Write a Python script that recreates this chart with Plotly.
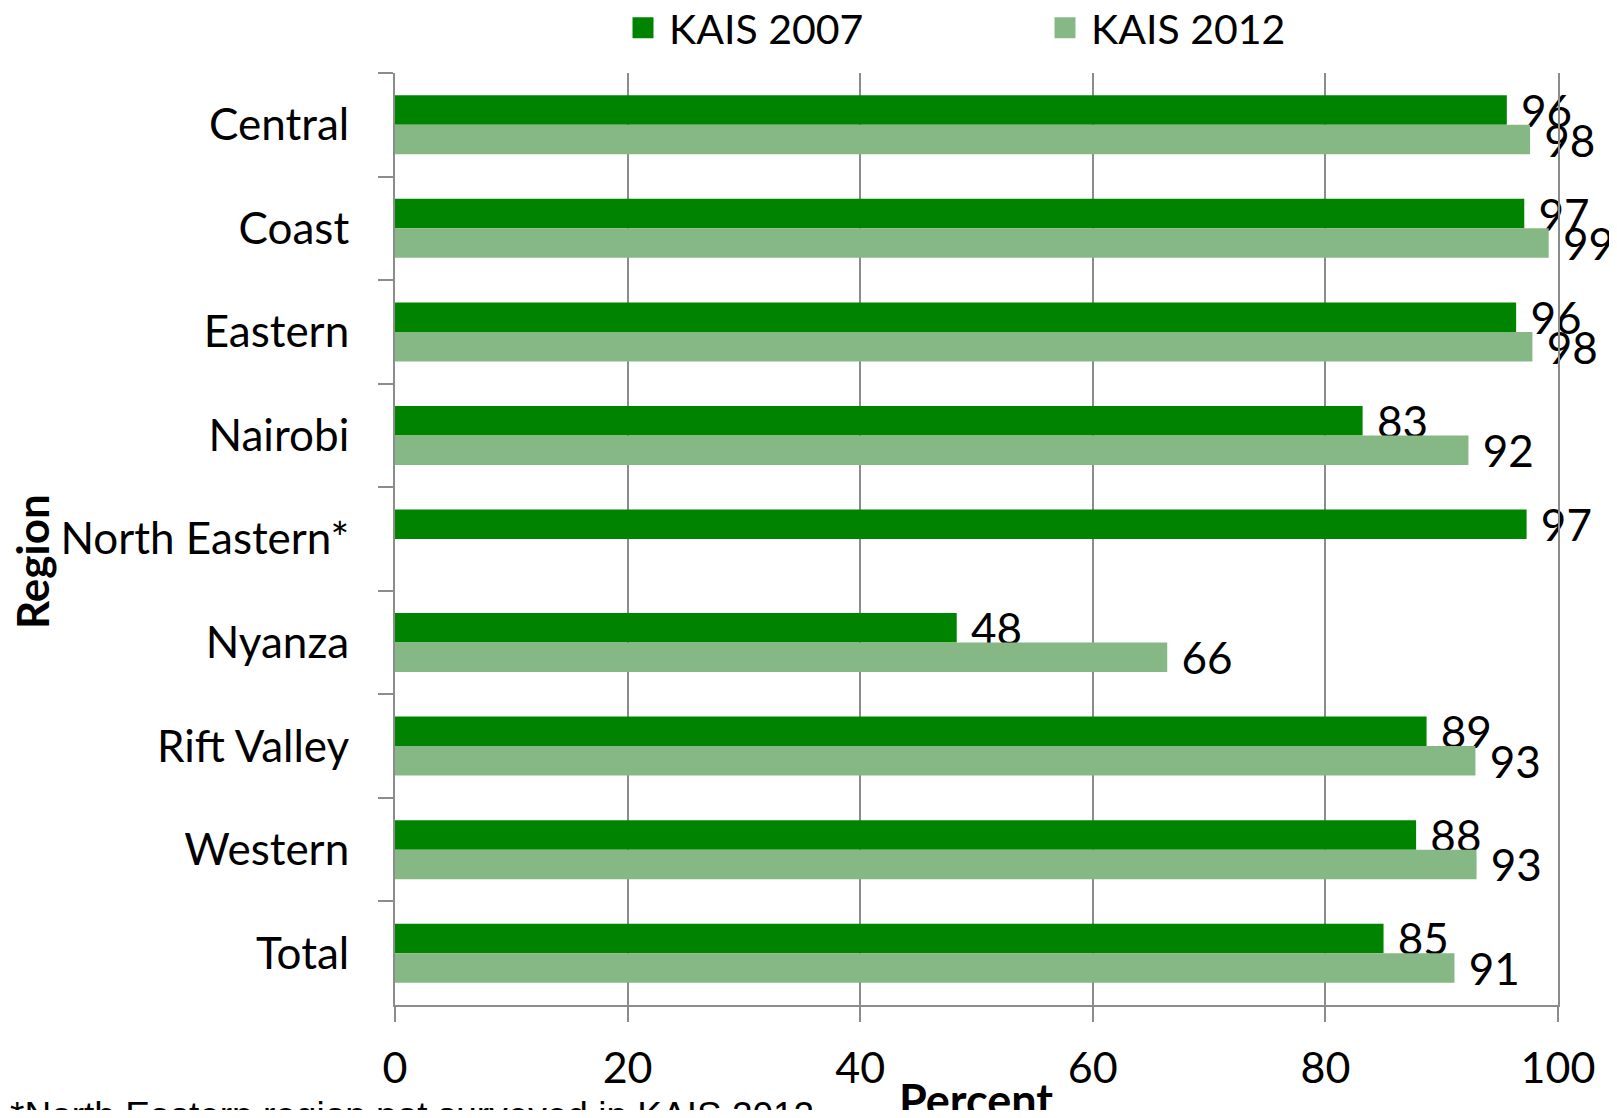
import plotly.graph_objects as go

regions = ["Central", "Coast", "Eastern", "Nairobi", "North Eastern*",
           "Nyanza", "Rift Valley", "Western", "Total"]
kais_2007 = [95.6, 97.1, 96.4, 83.2, 97.3, 48.3, 88.7, 87.8, 85.0]
kais_2012 = [97.6, 99.2, 97.8, 92.3, None, 66.4, 92.9, 93.0, 91.1]
labels_2007 = ["96", "97", "96", "83", "97", "48", "89", "88", "85"]
labels_2012 = ["98", "99", "98", "92", "", "66", "93", "93", "91"]
x_ticks = [0, 20, 40, 60, 80, 100]

# the page adds an 8px body margin; figure is sized so the page fits the window
W, H = 1609, 1102
ML, MR, MT, MB = 387, 59, 65, 105
ph = H - MT - MB
pw = W - ML - MR

FONT = "Lato"
dark = "#008400"
light = "#86B886"
axis_gray = "#8c8c8c"

fig = go.Figure()
for vals, labs, name, col in [(kais_2007, labels_2007, "KAIS 2007", dark),
                              (kais_2012, labels_2012, "KAIS 2012", light)]:
    fig.add_trace(go.Bar(
        y=regions, x=vals, orientation="h", name=name, showlegend=False,
        marker=dict(color=col, line=dict(width=0)),
        text=labs, texttemplate="\u00a0%{text}",
        textposition="outside", constraintext="none",
        cliponaxis=False, textfont=dict(family=FONT, size=44, color="black"),
    ))
# legend entries (square swatches)
for name, col in [("KAIS 2007", dark), ("KAIS 2012", light)]:
    fig.add_trace(go.Scatter(
        x=[None], y=[None], mode="markers", name=name,
        marker=dict(symbol="square", size=16, color=col,
                    line=dict(color=col, width=5)),
    ))

fig.update_layout(
    width=W, height=H,
    margin=dict(l=ML, r=MR, t=MT, b=MB, autoexpand=False),
    paper_bgcolor="white", plot_bgcolor="white",
    barmode="group", bargap=0.43, bargroupgap=0,
    font=dict(family=FONT, color="black"),
    showlegend=True,
    legend=dict(orientation="h", x=(609 - ML) / pw, xanchor="left",
                y=1.0 + (MT - 20) / ph, yanchor="middle",
                font=dict(family=FONT, size=41),
                entrywidth=365, entrywidthmode="pixels", itemwidth=42,
                bgcolor="rgba(0,0,0,0)"),
    xaxis=dict(range=[0, 100], tickvals=x_ticks, showgrid=True,
               gridcolor=axis_gray, gridwidth=2, zeroline=False,
               showline=True, linecolor=axis_gray, linewidth=2,
               ticks="outside", ticklen=15, tickcolor=axis_gray, tickwidth=2,
               ticklabelstandoff=9,
               tickfont=dict(family=FONT, size=43)),
    yaxis=dict(autorange="reversed", showgrid=False, zeroline=False,
               showline=True, linecolor=axis_gray, linewidth=2, mirror=True,
               ticks="outside", ticklen=15, tickcolor=axis_gray, tickwidth=2,
               tickson="boundaries", ticklabelstandoff=35,
               tickfont=dict(family=FONT, size=44)),
)

# x axis title
fig.add_annotation(text="<b>Percent</b>", xref="paper", yref="paper",
                   x=(968 - ML) / pw, y=(H - MB - 1063) / ph,
                   xanchor="center", yanchor="top", showarrow=False,
                   font=dict(family=FONT, size=45, color="black"))
# y axis title
fig.add_annotation(text="<b>Region</b>", xref="paper", yref="paper",
                   x=(24 - ML) / pw, y=(H - MB - 554) / ph, textangle=-90,
                   xanchor="center", yanchor="middle", showarrow=False,
                   font=dict(family=FONT, size=44, color="black"))
# footnote
fig.add_annotation(text="*North Eastern region not surveyed in KAIS 2012",
                   xref="paper", yref="paper",
                   x=(0 - ML) / pw, y=(H - MB - 1085) / ph,
                   xanchor="left", yanchor="top", showarrow=False,
                   font=dict(family="Liberation Sans", size=37, color="black"))

fig.write_html("out.html")
